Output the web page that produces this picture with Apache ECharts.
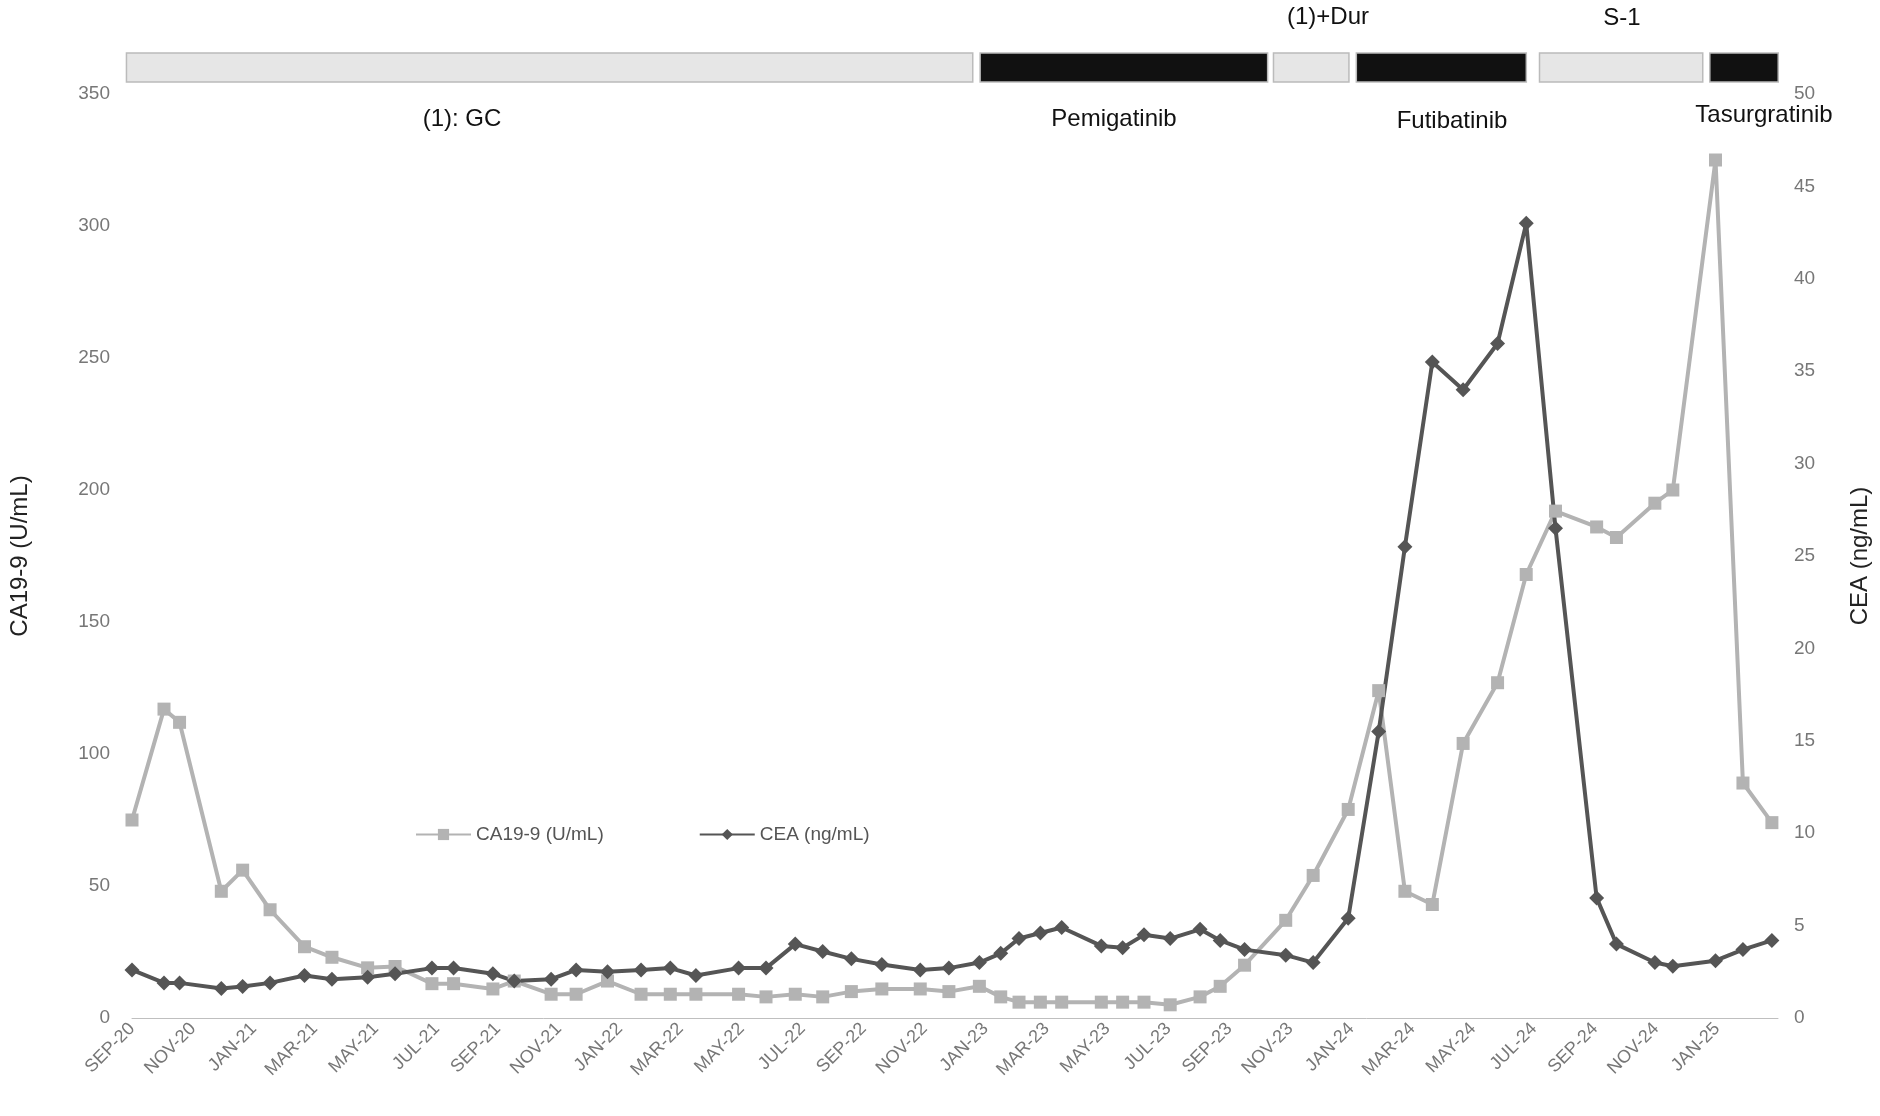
<!DOCTYPE html><html><head><meta charset="utf-8"><script src="https://cdn.jsdelivr.net/npm/echarts@6/dist/echarts.min.js"></script></head><body style="margin:0"><div id="c" style="width:1880px;height:1116px"></div><script>
const tickLabels=['SEP-20','NOV-20','JAN-21','MAR-21','MAY-21','JUL-21','SEP-21','NOV-21','JAN-22','MAR-22','MAY-22','JUL-22','SEP-22','NOV-22','JAN-23','MAR-23','MAY-23','JUL-23','SEP-23','NOV-23','JAN-24','MAR-24','MAY-24','JUL-24','SEP-24','NOV-24','JAN-25'];
const months=[0,1.05,1.56,2.93,3.63,4.53,5.66,6.56,7.73,8.63,9.84,10.55,11.84,12.54,13.75,14.57,15.6,16.7,17.66,18.5,19.9,20.8,21.76,22.66,23.6,24.6,25.86,26.8,27.8,28.5,29.1,29.8,30.5,31.8,32.5,33.2,34.06,35.04,35.7,36.5,37.85,38.75,39.9,40.9,41.76,42.66,43.67,44.8,45.74,46.7,48.05,48.7,49.96,50.55,51.95,52.85,53.8];
const ca199=[75,117,112,48,56,41,27,23,19,19.5,13,13,11,14,9,9,14,9,9,9,9,8,9,8,10,11,11,10,12,8,6,6,6,6,6,6,5,8,12,20,37,54,79,124,48,43,104,127,168,192,186,182,195,200,325,89,74];
const cea=[2.6,1.9,1.9,1.6,1.7,1.9,2.3,2.1,2.2,2.4,2.7,2.7,2.4,2.0,2.1,2.6,2.5,2.6,2.7,2.3,2.7,2.7,4.0,3.6,3.2,2.9,2.6,2.7,3.0,3.5,4.3,4.6,4.9,3.9,3.8,4.5,4.3,4.8,4.2,3.7,3.4,3.0,5.4,15.5,25.5,35.5,34,36.5,43,26.5,6.5,4.0,3.0,2.8,3.1,3.7,4.2];
const treatStart=[0.08,27.9,37.46,40.16,46.13,51.68];
const treatEnd=[27.66,37.27,39.92,45.7,51.45,53.91];
const treatColor=['#e6e6e6','#111111','#e6e6e6','#111111','#e6e6e6','#111111'];
const treatNames=['(1): GC','Pemigatinib','(1)+Dur','Futibatinib','S-1','Tasurgratinib'];
const treatLabelPos=[[462,119],[1114,119],[1328,17],[1452,121],[1622,18],[1764,115]];
const ch=echarts.init(document.getElementById('c'));
const font='Liberation Sans';
ch.setOption({
 textStyle:{fontFamily:font},
 grid:[{left:124,right:99,top:94,bottom:98},{left:124,right:99,top:53,height:29}],
 xAxis:[{type:'value',min:0,max:54,interval:2,splitLine:{show:false},
   axisLine:{lineStyle:{color:'#bfbfbf'}},axisTick:{show:false},
   axisLabel:{rotate:45,color:'#777',fontSize:18,formatter:v=>tickLabels[v/2]||''}},
  {type:'value',gridIndex:1,min:0,max:54,show:false}],
 yAxis:[{type:'value',min:0,max:350,interval:50,name:'CA19-9 (U/mL)',nameLocation:'middle',nameGap:100,nameTextStyle:{fontSize:24,color:'#222'},
   splitLine:{show:false},axisLine:{show:false},axisTick:{show:false},axisLabel:{color:'#777',fontSize:19,margin:22}},
  {type:'value',min:0,max:50,interval:5,name:'CEA (ng/mL)',nameLocation:'middle',nameGap:70,nameRotate:90,nameTextStyle:{fontSize:24,color:'#222'},
   splitLine:{show:false},axisLine:{show:false},axisTick:{show:false},axisLabel:{color:'#777',fontSize:19,margin:16}},
  {type:'value',gridIndex:1,min:0,max:1,show:false}],
 legend:{left:410,top:820,itemGap:95,itemWidth:55,textStyle:{color:'#555',fontSize:19},data:['CA19-9 (U/mL)','CEA (ng/mL)']},
 graphic:treatNames.map((n,i)=>({type:'text',x:treatLabelPos[i][0],y:treatLabelPos[i][1],style:{text:n,fontSize:24,fill:'#111',fontFamily:font,textAlign:'center',textVerticalAlign:'middle'}})),
 series:[
  {name:'CA19-9 (U/mL)',type:'line',data:months.map((m,i)=>[m,ca199[i]]),symbol:'rect',symbolSize:13,
   itemStyle:{color:'#b3b3b3'},lineStyle:{width:4,color:'#b3b3b3'}},
  {name:'CEA (ng/mL)',type:'line',yAxisIndex:1,data:months.map((m,i)=>[m,cea[i]]),symbol:'diamond',symbolSize:15,
   itemStyle:{color:'#555555'},lineStyle:{width:4,color:'#555555'}},
  {type:'custom',xAxisIndex:1,yAxisIndex:2,data:treatStart.map((s,i)=>[s,treatEnd[i],i]),
   renderItem:(p,api)=>{const a=api.coord([api.value(0),1]),b=api.coord([api.value(1),0]);const i=api.value(2);
     return {type:'rect',shape:{x:a[0],y:a[1],width:b[0]-a[0],height:b[1]-a[1]},style:{fill:treatColor[i],stroke:'#bbbbbb',lineWidth:1.5}};}}
 ]});
</script></body></html>
